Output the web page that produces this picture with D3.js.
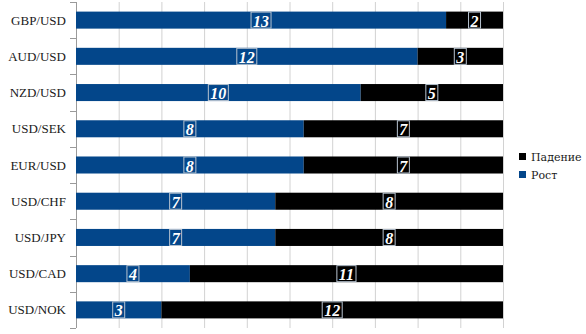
<!DOCTYPE html>
<html><head><meta charset="utf-8">
<script src="https://cdn.jsdelivr.net/npm/d3@7"></script>
<style>body{margin:0;background:#fff}svg{display:block}</style>
</head><body>
<svg id="c" width="586" height="334"></svg>
<script>
const categories = ["GBP/USD","AUD/USD","NZD/USD","USD/SEK","EUR/USD","USD/CHF","USD/JPY","USD/CAD","USD/NOK"];
const rise = [13,12,10,8,8,7,7,4,3];
const fall = [2,3,5,7,7,8,8,11,12];
const colors = {"Рост":"#03468A","Падение":"#000000"};
const gridTicks = [0,0.1,0.2,0.3,0.4,0.5,0.6,0.7,0.8,0.9,1];
const legendItems = ["Падение","Рост"];

const svg = d3.select("#c");
const L=76, R=503, T=2, B=328;
const x = d3.scaleLinear().domain([0,1]).range([L,R]);
const y = d3.scaleBand().domain(categories).range([T,B]).paddingInner(0.53).paddingOuter(0.265);
const yb = d3.scaleBand().domain(categories).range([T,B]);

// grid
svg.append("g").selectAll("line").data(gridTicks).join("line")
  .attr("x1",d=>x(d)+0.5).attr("x2",d=>x(d)+0.5).attr("y1",T).attr("y2",B)
  .attr("stroke",d=>d===0?"#9a9a9a":"#d2d2d2").attr("stroke-width",1);

// y ticks
const tickYs = categories.map(c=>yb(c)).concat([B]);
svg.append("g").selectAll("line").data(tickYs).join("line")
  .attr("x1",L-6).attr("x2",L).attr("y1",d=>Math.round(d)+0.5).attr("y2",d=>Math.round(d)+0.5)
  .attr("stroke","#9a9a9a");

// category labels
svg.append("g").selectAll("text").data(categories).join("text")
  .attr("x",66).attr("y",c=>yb(c)+yb.bandwidth()/2)
  .attr("text-anchor","end").attr("dominant-baseline","central")
  .attr("font-family","Liberation Serif, serif").attr("font-size",13).attr("fill","#1a1a1a")
  .text(c=>c);

const rows = categories.map((c,i)=>({c, rise:rise[i], fall:fall[i], total:rise[i]+fall[i]}));
const segs = [];
rows.forEach(r=>{
  segs.push({c:r.c, s:"Рост", v:r.rise, x0:0, x1:r.rise/r.total});
  segs.push({c:r.c, s:"Падение", v:r.fall, x0:r.rise/r.total, x1:1});
});

svg.append("g").selectAll("rect").data(segs).join("rect")
  .attr("x",d=>x(d.x0)).attr("width",d=>x(d.x1)-x(d.x0))
  .attr("y",d=>y(d.c)).attr("height",y.bandwidth())
  .attr("fill",d=>colors[d.s]);

// value labels
const lg = svg.append("g");
segs.forEach(d=>{
  const cx = (x(d.x0)+x(d.x1))/2;
  const t = lg.append("text").attr("x",cx).attr("y",y(d.c)+y.bandwidth()/2+1)
    .attr("text-anchor","middle").attr("dominant-baseline","central")
    .attr("font-family","Liberation Serif, serif").attr("font-weight","bold").attr("font-style","italic")
    .attr("font-size",16).attr("fill","#ffffff").text(d.v);
  const w = t.node().getComputedTextLength();
  lg.insert("rect","text").attr("x",cx-w/2-2).attr("width",w+4)
    .attr("y",y(d.c)+0.5).attr("height",y.bandwidth()-1)
    .attr("fill",colors[d.s]).attr("stroke","#b8c4d0").attr("stroke-width",1);
});
lg.selectAll("text").raise();

// legend
const leg = svg.append("g").selectAll("g").data(legendItems).join("g")
  .attr("transform",(d,i)=>`translate(519,${157+i*18})`);
leg.append("rect").attr("x",0).attr("y",-4).attr("width",7).attr("height",7).attr("fill",d=>colors[d]);
leg.append("text").attr("x",12).attr("y",0).attr("dominant-baseline","central")
  .attr("font-family","DejaVu Serif, Liberation Serif, serif").attr("font-size",11).attr("fill","#1a1a1a").text(d=>d);
</script>
</body></html>
